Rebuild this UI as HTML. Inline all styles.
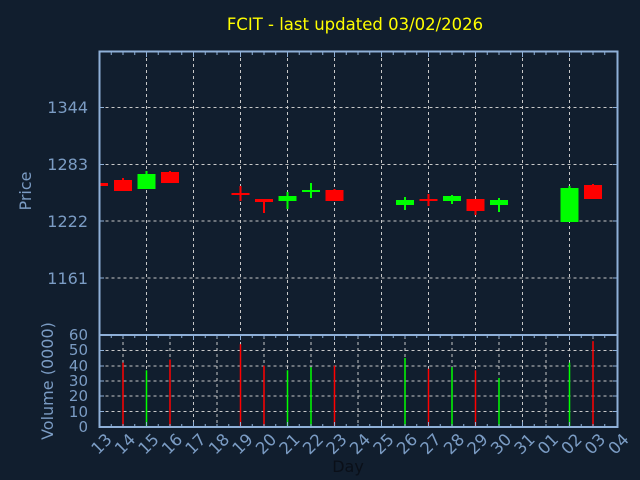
<!DOCTYPE html>
<html><head><meta charset="utf-8"><style>
html,body{margin:0;padding:0;background:#111e2e;}
svg{display:block;font-family:"DejaVu Sans","Liberation Sans",sans-serif;}
</style></head><body>
<svg id="s" width="640" height="480" xmlns="http://www.w3.org/2000/svg">
<rect width="640" height="480" fill="#111e2e"/>
<text x="355" y="30" fill="#ffff00" font-size="16.5" text-anchor="middle">FCIT - last updated 03/02/2026</text>
<g id="grid" stroke="#c8c8c8" stroke-width="1" stroke-dasharray="3,3" fill="none"></g>
<g id="price-labels" fill="#7b9cc4" font-size="16" text-anchor="end">
<text x="88" y="113">1344</text>
<text x="88" y="170">1283</text>
<text x="88" y="227">1222</text>
<text x="88" y="284">1161</text>
</g>
<g fill="#7b9cc4" font-size="15" text-anchor="end">
<text x="88" y="340">60</text><text x="88" y="355">50</text><text x="88" y="371">40</text><text x="88" y="386">30</text><text x="88" y="401">20</text><text x="88" y="417">10</text><text x="88" y="432">0</text>
</g>
<text transform="translate(31,191) rotate(-90)" fill="#7b9cc4" font-size="16" text-anchor="middle">Price</text>
<text transform="translate(53,381) rotate(-90)" fill="#7b9cc4" font-size="16" text-anchor="middle">Volume (0000)</text>
<text x="348" y="472" fill="#0a0f18" font-size="16" text-anchor="middle">Day</text>
<g id="candles"></g>
<g id="vol"></g>
<g id="xl" fill="#7b9cc4" font-size="16.5"></g>
<g stroke="#8fb0d8" stroke-width="2" fill="none">
<rect x="99.5" y="51.5" width="518" height="375.5"/>
<line x1="99.5" y1="335" x2="617.5" y2="335"/>
</g>
<g id="ticks" stroke="#8fb0d8" stroke-width="1"></g>
</svg>
<script>
const NS="http://www.w3.org/2000/svg";
function el(p,t,a,txt){const e=document.createElementNS(NS,t);for(const k in a)e.setAttribute(k,a[k]);if(txt!==undefined)e.textContent=txt;document.getElementById(p).appendChild(e);return e;}
const X=i=>99.5+23.5*i;
const days=["13","14","15","16","17","18","19","20","21","22","23","24","25","26","27","28","29","30","31","01","02","03","04"];
[107.5,164.5,221,278].forEach(y=>el("grid","line",{x1:99.5,x2:617.5,y1:y,y2:y}));
for(let i=2;i<22;i+=2)el("grid","line",{x1:X(i),x2:X(i),y1:52,y2:335});
[350.5,366,381,396,411.5].forEach(y=>el("grid","line",{x1:99.5,x2:617.5,y1:y,y2:y}));
for(let i=1;i<22;i++)el("grid","line",{x1:X(i),x2:X(i),y1:336,y2:427});
for(let k=1;k<44;k++){const x=99.5+11.75*k;const big=(k%4==0);el("ticks","line",{x1:x,x2:x,y1:52,y2:big?57:55});el("ticks","line",{x1:x,x2:x,y1:335,y2:big?340:338});el("ticks","line",{x1:x,x2:x,y1:427,y2:big?422:424});}
[107.5,164.5,221,278].forEach(y=>{el("ticks","line",{x1:99.5,x2:104,y1:y,y2:y});el("ticks","line",{x1:613,x2:617.5,y1:y,y2:y});});
[350.5,366,381,396,411.5].forEach(y=>{el("ticks","line",{x1:99.5,x2:104,y1:y,y2:y});el("ticks","line",{x1:613,x2:617.5,y1:y,y2:y});});
const R="#ff0000",G="#00ff00";
const c=[[0,R,183,186,183,186],[1,R,180,191,178,191],[2,G,174,189,171,189],[3,R,172,183,171,183],
[6,R,193,195,186,201],[7,R,199,202,199,213],[8,G,196,201,192,209],[9,G,190,192,183,198],[10,R,190,201,189,201],
[13,G,200,205,197,210],[14,R,199,201,194,206],[15,G,196,201,195,204],[16,R,199,211,199,215],[17,G,200,205,198,212],
[20,G,188,222,186,222],[21,R,185,199,184,199]];
c.forEach(([i,col,t,b,wt,wb])=>{const x=X(i);el("candles","line",{x1:x,x2:x,y1:wt,y2:wb,stroke:col,"stroke-width":2});
const w=18;const x0=(i==0)?90:x-w/2;el("candles","rect",{x:Math.max(99.5,x0),y:t,width:(i==0)?8.5:w,height:Math.max(2,b-t),fill:col});});
const v=[[1,R,42],[2,G,37],[3,R,44],[6,R,54],[7,R,40],[8,G,37],[9,G,39],[10,R,40],[13,G,45],[14,R,38],[15,G,39],[16,R,37],[17,G,32],[20,G,42],[21,R,56]];
v.forEach(([i,col,h])=>el("vol","line",{x1:X(i),x2:X(i),y1:427,y2:427-h*1.533,stroke:col,"stroke-width":1.5}));
days.forEach((d,i)=>{const x=X(i)+5,y=432;el("xl","text",{transform:`translate(${x},${y}) rotate(-45)`,"text-anchor":"end","dominant-baseline":"hanging"},d);});
</script>
</body></html>
